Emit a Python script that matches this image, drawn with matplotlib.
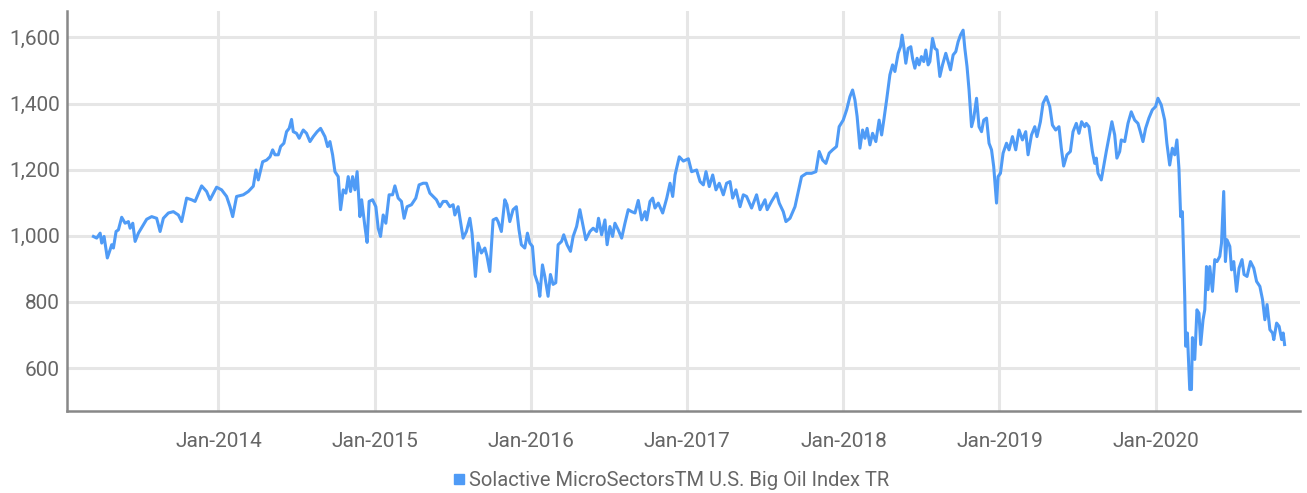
import datetime as dt
import matplotlib
matplotlib.use('Agg')
import matplotlib.pyplot as plt
import matplotlib.dates as mdates
from matplotlib.lines import Line2D
from matplotlib.ticker import FuncFormatter

# dates as decimal years
t_years = [
    2013.199, 2013.220, 2013.242, 2013.252, 2013.267, 2013.288, 2013.306, 2013.316, 2013.327, 2013.344,
    2013.359, 2013.380, 2013.402, 2013.423, 2013.434, 2013.451, 2013.466, 2013.487, 2013.519, 2013.540,
    2013.572, 2013.604, 2013.626, 2013.647, 2013.679, 2013.711, 2013.743, 2013.764, 2013.796, 2013.828,
    2013.850, 2013.892, 2013.924, 2013.946, 2013.988, 2014.020, 2014.052, 2014.074, 2014.091, 2014.116,
    2014.159, 2014.191, 2014.223, 2014.240, 2014.255, 2014.283, 2014.308, 2014.330, 2014.347, 2014.362,
    2014.383, 2014.398, 2014.419, 2014.436, 2014.453, 2014.468, 2014.479, 2014.500, 2014.517, 2014.532,
    2014.543, 2014.564, 2014.586, 2014.607, 2014.632, 2014.654, 2014.682, 2014.699, 2014.714, 2014.731,
    2014.746, 2014.767, 2014.782, 2014.799, 2014.816, 2014.831, 2014.846, 2014.859, 2014.874, 2014.888,
    2014.906, 2014.917, 2014.938, 2014.952, 2014.965, 2014.987, 2015.008, 2015.023, 2015.038, 2015.055,
    2015.072, 2015.093, 2015.115, 2015.130, 2015.151, 2015.172, 2015.189, 2015.208, 2015.236, 2015.264,
    2015.285, 2015.311, 2015.332, 2015.354, 2015.375, 2015.396, 2015.418, 2015.439, 2015.460, 2015.482,
    2015.503, 2015.514, 2015.535, 2015.550, 2015.567, 2015.588, 2015.610, 2015.624, 2015.646, 2015.663,
    2015.684, 2015.706, 2015.720, 2015.738, 2015.759, 2015.780, 2015.791, 2015.812, 2015.834, 2015.848,
    2015.866, 2015.887, 2015.908, 2015.925, 2015.940, 2015.962, 2015.979, 2015.994, 2016.011, 2016.026,
    2016.047, 2016.058, 2016.075, 2016.090, 2016.111, 2016.126, 2016.143, 2016.160, 2016.175, 2016.197,
    2016.211, 2016.232, 2016.254, 2016.271, 2016.293, 2016.314, 2016.331, 2016.352, 2016.378, 2016.399,
    2016.421, 2016.433, 2016.453, 2016.474, 2016.488, 2016.506, 2016.523, 2016.538, 2016.559, 2016.581,
    2016.602, 2016.623, 2016.645, 2016.666, 2016.687, 2016.709, 2016.730, 2016.741, 2016.762, 2016.779,
    2016.794, 2016.815, 2016.843, 2016.869, 2016.890, 2016.907, 2016.922, 2016.949, 2016.975, 2017.007,
    2017.028, 2017.060, 2017.082, 2017.103, 2017.120, 2017.141, 2017.163, 2017.184, 2017.205, 2017.231,
    2017.252, 2017.274, 2017.291, 2017.312, 2017.338, 2017.359, 2017.380, 2017.412, 2017.444, 2017.466,
    2017.498, 2017.512, 2017.540, 2017.572, 2017.589, 2017.615, 2017.632, 2017.658, 2017.690, 2017.711,
    2017.732, 2017.764, 2017.796, 2017.824, 2017.845, 2017.867, 2017.888, 2017.909, 2017.931, 2017.956,
    2017.973, 2017.999, 2018.021, 2018.042, 2018.059, 2018.074, 2018.088, 2018.106, 2018.123, 2018.138,
    2018.152, 2018.170, 2018.187, 2018.208, 2018.229, 2018.245, 2018.259, 2018.277, 2018.298, 2018.315,
    2018.330, 2018.351, 2018.366, 2018.376, 2018.387, 2018.400, 2018.415, 2018.432, 2018.443, 2018.458,
    2018.472, 2018.485, 2018.500, 2018.515, 2018.528, 2018.543, 2018.554, 2018.571, 2018.586, 2018.600,
    2018.618, 2018.635, 2018.656, 2018.671, 2018.686, 2018.703, 2018.720, 2018.735, 2018.750, 2018.767,
    2018.778, 2018.792, 2018.805, 2018.821, 2018.835, 2018.853, 2018.869, 2018.885, 2018.899, 2018.917,
    2018.933, 2018.949, 2018.963, 2018.981, 2018.991, 2019.006, 2019.023, 2019.045, 2019.061, 2019.083,
    2019.104, 2019.125, 2019.147, 2019.168, 2019.183, 2019.205, 2019.226, 2019.240, 2019.262, 2019.279,
    2019.300, 2019.322, 2019.339, 2019.360, 2019.381, 2019.396, 2019.411, 2019.432, 2019.454, 2019.471,
    2019.492, 2019.509, 2019.526, 2019.546, 2019.556, 2019.573, 2019.595, 2019.610, 2019.620, 2019.631,
    2019.652, 2019.667, 2019.684, 2019.706, 2019.720, 2019.738, 2019.752, 2019.770, 2019.780, 2019.802,
    2019.823, 2019.844, 2019.866, 2019.887, 2019.902, 2019.919, 2019.936, 2019.957, 2019.979, 2020.000,
    2020.015, 2020.036, 2020.058, 2020.072, 2020.090, 2020.107, 2020.122, 2020.136, 2020.149, 2020.160,
    2020.171, 2020.186, 2020.192, 2020.203, 2020.218, 2020.229, 2020.235, 2020.250, 2020.264, 2020.277,
    2020.288, 2020.303, 2020.314, 2020.325, 2020.335, 2020.346, 2020.363, 2020.378, 2020.392, 2020.410,
    2020.421, 2020.435, 2020.446, 2020.456, 2020.474, 2020.485, 2020.499, 2020.517, 2020.533, 2020.552,
    2020.565, 2020.584, 2020.606, 2020.627, 2020.645, 2020.666, 2020.683, 2020.698, 2020.712, 2020.730,
    2020.747, 2020.755, 2020.773, 2020.789, 2020.805, 2020.815, 2020.824,
]

index_level = [
    998, 993, 1008, 978, 998, 933, 958, 973, 963, 1013,
    1018, 1056, 1038, 1043, 1023, 1038, 983, 1008, 1033, 1050,
    1058, 1053, 1013, 1053, 1069, 1073, 1063, 1043, 1114, 1109,
    1104, 1151, 1134, 1109, 1147, 1139, 1119, 1088, 1058, 1119,
    1124, 1134, 1150, 1199, 1169, 1224, 1229, 1239, 1260, 1245,
    1245, 1270, 1280, 1315, 1325, 1352, 1315, 1310, 1295, 1310,
    1320, 1310, 1285, 1300, 1315, 1325, 1300, 1270, 1285, 1245,
    1194, 1179, 1079, 1139, 1129, 1179, 1134, 1179, 1139, 1194,
    1058, 1109, 1028, 980, 1104, 1109, 1088, 1023, 998, 1063,
    1038, 1124, 1124, 1151, 1114, 1104, 1053, 1088, 1094, 1114,
    1154, 1159, 1159, 1129, 1119, 1109, 1088, 1104, 1104, 1088,
    1094, 1063, 1088, 1043, 993, 1013, 1053, 1008, 877, 978,
    948, 963, 938, 892, 1048, 1053, 1043, 1013, 1109, 1094,
    1043, 1079, 1088, 1018, 973, 963, 1008, 978, 968, 883,
    853, 817, 912, 877, 817, 883, 853, 858, 973, 983,
    1003, 973, 953, 998, 1028, 1079, 1038, 988, 1013, 1023,
    1013, 1053, 1003, 1048, 973, 1028, 998, 1038, 1018, 993,
    1038, 1079, 1073, 1069, 1107, 1048, 1073, 1048, 1104, 1114,
    1084, 1099, 1069, 1114, 1159, 1119, 1184, 1239, 1226, 1233,
    1194, 1199, 1164, 1154, 1194, 1149, 1184, 1139, 1159, 1124,
    1159, 1164, 1114, 1139, 1088, 1124, 1119, 1084, 1124, 1079,
    1109, 1079, 1104, 1129, 1099, 1073, 1043, 1053, 1088, 1134,
    1179, 1189, 1189, 1194, 1255, 1229, 1219, 1250, 1260, 1270,
    1330, 1350, 1381, 1421, 1441, 1411, 1361, 1265, 1320, 1295,
    1325, 1275, 1310, 1285, 1350, 1305, 1350, 1411, 1487, 1517,
    1497, 1552, 1572, 1607, 1572, 1522, 1567, 1572, 1537, 1507,
    1537, 1517, 1542, 1527, 1562, 1517, 1527, 1597, 1567, 1562,
    1482, 1517, 1552, 1527, 1502, 1547, 1557, 1587, 1607, 1622,
    1567, 1512, 1441, 1330, 1356, 1416, 1330, 1315, 1350, 1356,
    1280, 1260, 1209, 1099, 1179, 1189, 1250, 1280, 1260, 1300,
    1260, 1320, 1290, 1315, 1245, 1305, 1330, 1300, 1345, 1401,
    1421, 1391, 1335, 1320, 1330, 1265, 1211, 1245, 1255, 1315,
    1340, 1310, 1345, 1330, 1340, 1330, 1255, 1219, 1235, 1189,
    1169, 1209, 1255, 1310, 1345, 1305, 1235, 1255, 1290, 1285,
    1340, 1375, 1350, 1340, 1315, 1285, 1325, 1356, 1381, 1391,
    1416, 1396, 1350, 1280, 1214, 1265, 1245, 1290, 1204, 1058,
    1073, 817, 666, 706, 535, 535, 692, 626, 776, 766,
    671, 746, 776, 907, 837, 907, 832, 928, 922, 938,
    978, 1134, 922, 988, 968, 897, 922, 832, 902, 928,
    883, 877, 922, 902, 862, 847, 807, 746, 792, 716,
    706, 686, 736, 726, 686, 706, 671,
]

tick_years = [2014, 2015, 2016, 2017, 2018, 2019, 2020]
y_ticks = [600, 800, 1000, 1200, 1400, 1600]
series_name = 'Solactive MicroSectorsTM U.S. Big Oil Index TR'


def to_date(y):
    year = int(y)
    start = dt.datetime(year, 1, 1)
    end = dt.datetime(year + 1, 1, 1)
    return start + (end - start) * (y - year)


dates = [to_date(t) for t in t_years]

plt.rcParams['font.family'] = ['Roboto', 'DejaVu Sans']

line_color = '#4f9bf6'
text_color = '#666666'
grid_color = '#e6e6e6'
spine_color = '#888888'

fig = plt.figure(figsize=(13.07, 4.93), dpi=100)
ax = fig.add_axes([0.0513, 0.1663, 0.9433, 0.8114])

ax.plot(dates, index_level, color=line_color, linewidth=2.2, zorder=3)

ax.set_xlim(to_date(2013.030), to_date(2020.922))
ax.set_ylim(470, 1680)

ax.set_xticks([dt.datetime(y, 1, 1) for y in tick_years])
ax.xaxis.set_major_formatter(mdates.DateFormatter('%b-%Y'))
ax.set_yticks(y_ticks)
ax.yaxis.set_major_formatter(FuncFormatter(lambda v, p: f'{v:,.0f}'))

ax.grid(True, color=grid_color, linewidth=2.2, zorder=0)
ax.set_axisbelow(True)
ax.tick_params(axis='both', length=0, labelsize=15, labelcolor=text_color)
ax.tick_params(axis='x', pad=15)
ax.tick_params(axis='y', pad=5)

for side in ['top', 'right']:
    ax.spines[side].set_visible(False)
for side in ['left', 'bottom']:
    ax.spines[side].set_color(spine_color)
    ax.spines[side].set_linewidth(1.8)

handle = Line2D([], [], linestyle='none', marker='s', markersize=7.5,
                markerfacecolor=line_color, markeredgecolor=line_color)
fig.legend([handle], [series_name], loc='center', bbox_to_anchor=(0.513, 0.026),
           frameon=False, fontsize=14.5, labelcolor=text_color,
           handletextpad=0.1, handlelength=0.8, borderaxespad=0)

fig.savefig('out.png', dpi=100)
